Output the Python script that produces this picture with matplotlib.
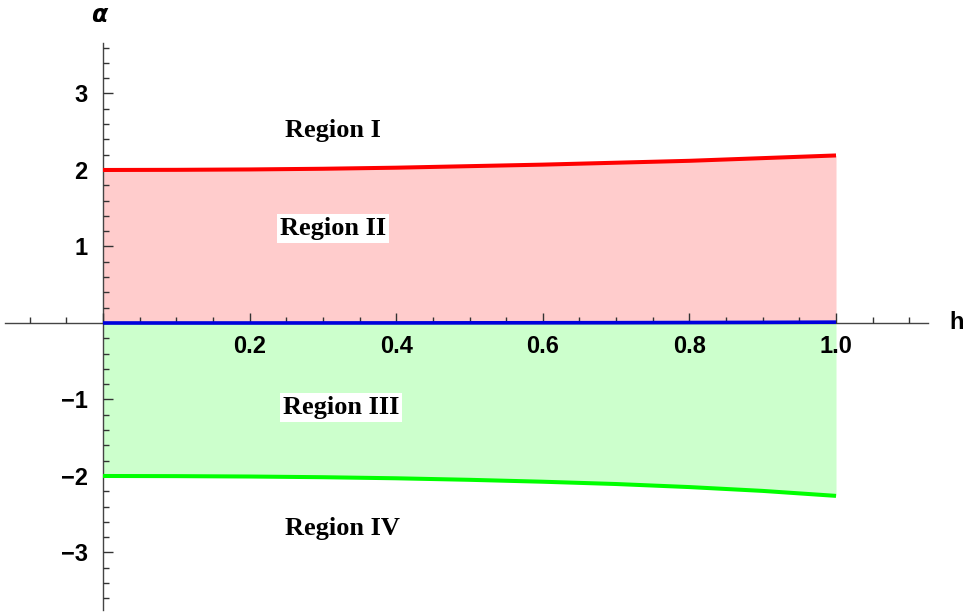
import numpy as np
import matplotlib
matplotlib.use("Agg")
import matplotlib.pyplot as plt
from matplotlib.ticker import FixedLocator

# curves
h = [0.0, 0.1, 0.2, 0.3, 0.4, 0.5, 0.6, 0.7, 0.8, 0.9, 1.0]
alpha_upper = [2.0, 2.002, 2.007, 2.016, 2.03, 2.05, 2.07, 2.095, 2.12, 2.155, 2.19]
alpha_mid = [0.0, 0.0, 0.0, 0.0005, 0.001, 0.002, 0.003, 0.004, 0.006, 0.008, 0.011]
alpha_lower = [-2.0, -2.002, -2.007, -2.016, -2.03, -2.05, -2.075, -2.105, -2.145, -2.195, -2.26]

x_ticks = [0.2, 0.4, 0.6, 0.8, 1.0]
y_ticks = [-3, -2, -1, 1, 2, 3]

fig = plt.figure(figsize=(9.64, 6.13), dpi=100)
ax = fig.add_axes([0, 0, 1, 1])
ax.set_xlim(-0.1405, 1.1746)
ax.set_ylim(-3.791, 4.222)

# shaded regions
ax.fill_between(h, alpha_mid, alpha_upper, color='#ffcccc', lw=0)
ax.fill_between(h, alpha_lower, alpha_mid, color='#ccffcc', lw=0)

ax.plot(h, alpha_upper, color='#ff0000', lw=2.9, solid_capstyle='butt')
ax.plot(h, alpha_lower, color='#00ff00', lw=2.9, solid_capstyle='butt')
ax.plot(h, alpha_mid, color='#0000dd', lw=2.6, solid_capstyle='butt', zorder=3)

# axes through the origin
for s in ['top', 'right']:
    ax.spines[s].set_visible(False)
ax.spines['left'].set_position(('data', 0))
ax.spines['bottom'].set_position(('data', 0))
ax.spines['left'].set_bounds(-3.75, 3.66)
ax.spines['bottom'].set_bounds(-0.134, 1.125)
for s in ['left', 'bottom']:
    ax.spines[s].set_color('#444444')
    ax.spines[s].set_linewidth(1.0)
    ax.spines[s].set_zorder(1)

ax.xaxis.set_major_locator(FixedLocator([0.0] + x_ticks))
ax.xaxis.set_minor_locator(FixedLocator(np.round(np.arange(-0.1, 1.11, 0.05), 3)))
ax.yaxis.set_major_locator(FixedLocator(y_ticks))
ax.yaxis.set_minor_locator(FixedLocator(np.round(np.arange(-3.6, 3.61, 0.2), 3)))

ax.set_xticklabels([''] + ['%.1f' % v for v in x_ticks])
ax.set_yticklabels(['\u2212%d' % -v if v < 0 else '%d' % v for v in y_ticks])

ax.tick_params(which='both', direction='in', color='#333333', width=1.0)
ax.tick_params(which='major', length=7.5)
ax.tick_params(which='minor', length=4.5)
ax.tick_params(axis='x', which='major', pad=9)
ax.tick_params(axis='y', which='major', pad=11)
for lab in ax.get_xticklabels() + ax.get_yticklabels():
    lab.set_fontfamily('Liberation Sans')
    lab.set_fontweight('bold')
    lab.set_fontsize(17)

ax.text(1.165, 0.0, 'h', fontsize=17, fontweight='bold', family='Liberation Sans',
        ha='center', va='center')
ax.text(-0.004, 4.03, r'$\boldsymbol{\alpha}$', fontsize=17, ha='center', va='center')

reg = dict(fontsize=19, fontweight='bold', family='Liberation Serif', ha='center', va='center')
box = dict(facecolor='white', edgecolor='none', pad=2)
ax.text(0.314, 2.52, 'Region I', **reg)
ax.text(0.314, 1.23, 'Region II', bbox=box, **reg)
ax.text(0.325, -1.10, 'Region III', bbox=box, **reg)
ax.text(0.327, -2.68, 'Region IV', **reg)

fig.savefig('out.png', dpi=100)
